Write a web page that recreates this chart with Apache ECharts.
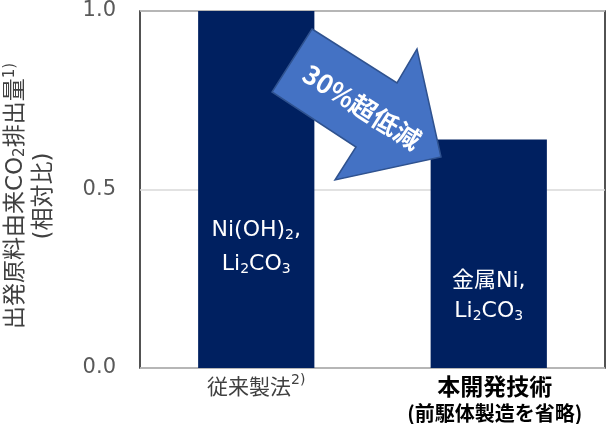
<!DOCTYPE html>
<html>
<head>
<meta charset="utf-8">
<script src="https://cdn.jsdelivr.net/npm/echarts@6/dist/echarts.min.js"></script>
<style>
html,body{margin:0;padding:0;background:#fff;}
#main{width:607px;height:424px;}
</style>
</head>
<body>
<div id="main"></div>
<script>
// ---- data ----
const categories = ['従来製法', '本開発技術'];
const categoryNotes = ['2)', '(前駆体製造を省略)'];
const values = [1.0, 0.64];
const barLabels = ['Ni(OH){sub|2},\nLi{sub|2}CO{sub|3}', '金属Ni,\nLi{sub|2}CO{sub|3}'];
const yTickLabels = ['0.0', '0.5', '1.0'];
const yAxisTitle = ['出発原料由来CO', '2', '排出量', '1)', '(相対比)'];
const arrowText = '30%超低減';

// ---- styles / layout ----
const FONT = '"DejaVu Sans", "Noto Sans CJK JP", sans-serif';
const CJK = '"Noto Sans CJK JP", "Noto Sans", sans-serif';
const labelOffsets = [236, 157];
const labelLineHeights = [34, 30];

const chart = echarts.init(document.getElementById('main'), null, {renderer: 'canvas'});

const option = {
  animation: false,
  backgroundColor: '#fff',
  textStyle: {fontFamily: FONT},
  grid: {
    left: 140, right: 2, top: 11, bottom: 56,
    containLabel: false,
    outerBoundsMode: 'none',
    show: true, borderColor: '#1a1a1a', borderWidth: 1.5, backgroundColor: 'transparent'
  },
  xAxis: {
    type: 'category',
    data: categories,
    axisLine: {show: false},
    axisTick: {show: false},
    axisLabel: {
      margin: 5,
      interval: 0,
      fontFamily: CJK,
      formatter: function (v, i) {
        if (i === 0) return '{a|' + v + '}{sup|' + categoryNotes[0] + '}';
        return '{b|' + v + '}\n{c|' + categoryNotes[1] + '}';
      },
      rich: {
        a: {fontSize: 21, color: '#404040', lineHeight: 26, fontFamily: CJK},
        sup: {fontSize: 14, color: '#404040', verticalAlign: 'top', lineHeight: 14, fontFamily: FONT},
        b: {fontSize: 23, color: '#000', fontWeight: 'bold', lineHeight: 26, fontFamily: CJK, padding: [0, 0, 0, 12]},
        c: {fontSize: 20, color: '#000', fontWeight: 'bold', lineHeight: 29, fontFamily: CJK, padding: [0, 0, 0, 12]}
      }
    }
  },
  yAxis: {
    type: 'value',
    min: 0, max: 1, interval: 0.5,
    axisLine: {show: false},
    axisTick: {show: false},
    splitLine: {show: true, lineStyle: {color: '#d9d9d9', width: 1.5}},
    axisLabel: {
      margin: 24, fontSize: 21, color: '#595959', fontFamily: FONT,
      formatter: function (v) {
        const idx = Math.round(v / 0.5);
        return yTickLabels[idx];
      }
    }
  },
  series: [{
    type: 'bar',
    barWidth: '50%',
    itemStyle: {color: '#002060'},
    data: values.map(function (v, i) {
      return {
        value: v,
        label: {
          show: true,
          position: ['50%', labelOffsets[i]],
          align: 'center',
          verticalAlign: 'middle',
          formatter: barLabels[i],
          color: '#fff',
          fontSize: 22,
          lineHeight: labelLineHeights[i],
          fontFamily: FONT,
          rich: {
            sub: {fontSize: 14, color: '#fff', verticalAlign: 'bottom', lineHeight: 14, padding: [0, 0, labelLineHeights[i] / 2 - 12, 0], fontFamily: FONT}
          }
        }
      };
    })
  }],
  graphic: [
    {
      type: 'text',
      z: 50,
      x: 30, y: 196,
      rotation: Math.PI / 2,
      style: {
        text: yAxisTitle[0] + '{sub|' + yAxisTitle[1] + '}' + yAxisTitle[2] + '{sup|' + yAxisTitle[3] + '}\n' + yAxisTitle[4],
        fill: '#404040',
        font: '23px ' + FONT,
        lineHeight: 28,
        align: 'center',
        verticalAlign: 'middle',
        rich: {
          sub: {fill: '#404040', font: '15px ' + FONT, verticalAlign: 'bottom', lineHeight: 15, padding: [0, 0, 2, 0]},
          sup: {fill: '#404040', font: '15px ' + FONT, verticalAlign: 'top', lineHeight: 15, padding: [1, 0, 0, 0]}
        }
      }
    },
    {
      type: 'polygon',
      z: 100,
      shape: {points: [[312, 29], [397, 83], [417, 49], [441, 157], [335, 180], [356, 147], [272, 92]]},
      style: {fill: '#4472C4', stroke: '#2F528F', lineWidth: 1.5}
    },
    {
      type: 'text',
      z: 101,
      x: 362, y: 107,
      rotation: -0.566,
      style: {
        text: arrowText,
        fill: '#fff',
        font: 'bold 26px ' + CJK,
        align: 'center',
        verticalAlign: 'middle'
      }
    }
  ]
};
chart.setOption(option);
</script>
</body>
</html>
